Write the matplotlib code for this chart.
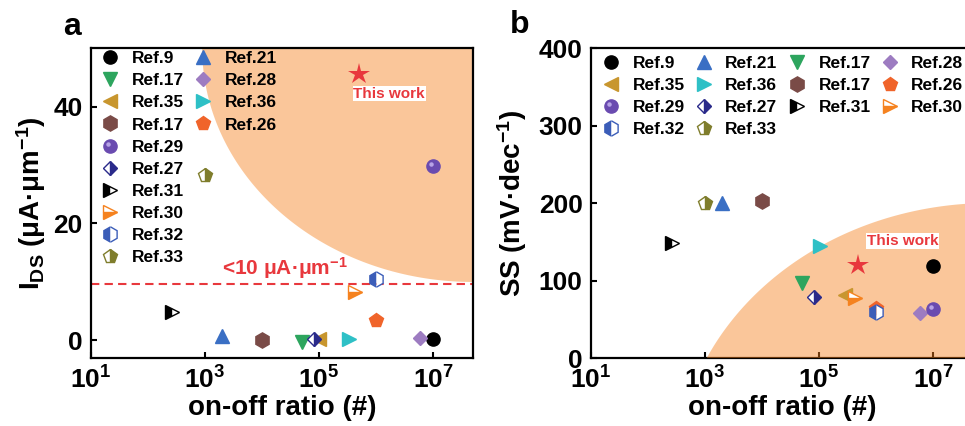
import numpy as np
import matplotlib
matplotlib.use('Agg')
import matplotlib.pyplot as plt
from matplotlib.path import Path
from matplotlib.ticker import FixedLocator, FuncFormatter

plt.rcParams.update({
    'font.family': 'Liberation Sans',
    'font.weight': 'bold',
    'axes.labelweight': 'bold',
    'mathtext.fontset': 'custom',
    'mathtext.rm': 'Liberation Sans:bold',
    'mathtext.bf': 'Liberation Sans:bold',
    'mathtext.it': 'Liberation Sans:bold:italic',
    'mathtext.sf': 'Liberation Sans:bold',
    'mathtext.default': 'bf',
})

# reference keys
keys = ['ref9', 'ref21', 'ref17a', 'ref28',
        'ref35', 'ref36', 'ref17b', 'ref26',
        'ref29', 'ref27', 'ref31', 'ref30',
        'ref32', 'ref33']
labels = ['Ref.9', 'Ref.21', 'Ref.17', 'Ref.28',
          'Ref.35', 'Ref.36', 'Ref.17', 'Ref.26',
          'Ref.29', 'Ref.27', 'Ref.31', 'Ref.30',
          'Ref.32', 'Ref.33']

# panel a: on-off ratio vs I_DS (uA/um)
ratio_a = [1e7, 2e3, 5e4, 5.8e6, 1e5, 3.3e5, 1e4, 1e6, 1e7, 8e4, 2.6e2, 4.3e5, 1e6, 1e3]
ids_a = [0.3, 0.7, -0.2, 0.5, 0.2, 0.2, 0.0, 3.5, 29.8, 0.2, 4.8, 8.3, 10.5, 28.3]
# panel b: on-off ratio vs SS (mV/dec)
ratio_b = [1e7, 2e3, 5e4, 5.8e6, 2.9e5, 1.05e5, 1e4, 1e6, 1e7, 8e4, 2.6e2, 4.3e5, 1e6, 1e3]
ss_b = [119, 200, 97, 58, 81, 144, 203, 65, 63, 79, 149, 77, 60, 200]

this_ratio = [5e5, 4.9e5]
this_ids = 45.6
this_ss = 120
ids_limit = 9.7

# legend layouts
leg_a_col1 = ['ref9', 'ref17a', 'ref35', 'ref17b', 'ref29', 'ref27', 'ref31', 'ref30', 'ref32', 'ref33']
leg_a_col2 = ['ref21', 'ref28', 'ref36', 'ref26']
leg_b = ['ref9', 'ref35', 'ref29', 'ref32',
         'ref21', 'ref36', 'ref27', 'ref33',
         'ref17a', 'ref17b', 'ref31',
         'ref28', 'ref26', 'ref30']

colors = {'ref9': 'black', 'ref21': '#3A6FC4', 'ref17a': '#2DA55E', 'ref28': '#9D7CC1',
          'ref35': '#C8962E', 'ref36': '#2EC0C6', 'ref17b': '#7A4B47', 'ref26': '#F0642A',
          'ref29': '#6A4BB0', 'ref27': '#2A2A8A', 'ref31': 'black', 'ref30': '#F5821F',
          'ref32': '#3B5DB8', 'ref33': '#7F7D2C'}
markers = {'ref9': 'o', 'ref21': '^', 'ref17a': 'v', 'ref28': 'D', 'ref35': '<',
           'ref36': '>', 'ref17b': 'h', 'ref26': 'p', 'ref29': 'o', 'ref27': 'D',
           'ref31': '>', 'ref30': '>', 'ref32': 'h', 'ref33': 'p'}
sizes = {'o': 9.5, '^': 10, 'v': 10, '<': 10, '>': 10, 'D': 7, 'h': 11, 'p': 10.5}
fills = {'ref27': 'right', 'ref31': 'left', 'ref30': 'bottom', 'ref32': 'left', 'ref33': 'right'}

orange = '#F58220'
red = '#E8383D'

# small highlight dot for the "sphere" marker of Ref.29
t = np.linspace(0, 2 * np.pi, 30)
hv = np.column_stack([-0.3 + 0.34 * np.cos(t), 0.3 + 0.34 * np.sin(t)])
hverts = np.vstack([hv, [[1, 1], [-1, -1]]])
hcodes = [Path.MOVETO] + [Path.LINETO] * (len(hv) - 2) + [Path.CLOSEPOLY] + [Path.MOVETO, Path.MOVETO]
shine = Path(hverts, hcodes)


def style(k):
    m = markers[k]
    kw = dict(marker=m, markersize=sizes[m], color=colors[k], markeredgecolor=colors[k],
              markeredgewidth=1.0, linestyle='none')
    if k in fills:
        kw.update(fillstyle=fills[k], markerfacecoloralt='white')
    return kw


def draw_points(ax, xs, ys):
    handles = {}
    for k, x, y in zip(keys, xs, ys):
        h, = ax.plot([x], [y], zorder=4, **style(k))
        if k == 'ref29':
            s, = ax.plot([x], [y], marker=shine, markersize=sizes['o'], color='#B7A3E6',
                         markeredgewidth=0, linestyle='none', zorder=4.1)
            h = (h, s)
        handles[k] = h
    return handles


def fmt_log(v, pos):
    return r'$\mathbf{10^{%d}}$' % int(round(np.log10(v)))


def setup(ax):
    ax.set_xscale('log')
    ax.set_xlim(10, 10 ** 7.7)
    ax.xaxis.set_major_locator(FixedLocator([1e1, 1e3, 1e5, 1e7]))
    ax.xaxis.set_minor_locator(FixedLocator([]))
    ax.xaxis.set_major_formatter(FuncFormatter(fmt_log))
    ax.tick_params(direction='in', length=4, width=1.5, labelsize=19, pad=6)
    for sp in ax.spines.values():
        sp.set_linewidth(1.6)
    ax.set_xlabel('on-off ratio (#)', fontsize=20, labelpad=1)


leg_kw = dict(frameon=False, fontsize=12.5, handlelength=1.0, handletextpad=0.75,
              labelspacing=0.4, borderpad=0, borderaxespad=0, loc='upper left',
              numpoints=1)

fig = plt.figure(figsize=(9.65, 4.26), dpi=100)
ax_a = fig.add_axes([0.0943, 0.1596, 0.3959, 0.7277])
ax_b = fig.add_axes([0.6124, 0.1596, 0.3959, 0.7277])

# ---- panel a ----
setup(ax_a)
ax_a.set_ylim(-3, 50)
ax_a.set_yticks([0, 20, 40])
ax_a.set_ylabel(r'I$_{\mathbf{DS}}$ (μA·μm$^{\mathbf{-1}}$)', fontsize=20, labelpad=4)

tt = np.linspace(0, np.pi / 2, 200)
lx = 7.7 - 4.75 * np.cos(tt)
ly = 50 - 40 * np.sin(tt)
ax_a.fill(np.append(10 ** lx, 10 ** 7.7), np.append(ly, 50), color=orange, alpha=0.45,
          lw=0, zorder=1)
ax_a.axhline(ids_limit, color=red, ls=(0, (4, 2.5)), lw=1.5, zorder=2)
ax_a.text(2.5e4, 12.4, r'<10 μA·μm$^{\mathbf{-1}}$', color=red, fontsize=15,
          ha='center', va='center')

ha = draw_points(ax_a, ratio_a, ids_a)
ax_a.plot([this_ratio[0]], [this_ids], marker='*', markersize=16, color=red,
          markeredgewidth=0, linestyle='none', zorder=5)
ax_a.text(1.7e6, 42.2, 'This work', color=red, fontsize=11, ha='center', va='center',
          bbox=dict(facecolor='white', edgecolor='none', pad=0.5), zorder=5)

leg1 = ax_a.legend([ha[k] for k in leg_a_col1], [labels[keys.index(k)] for k in leg_a_col1],
                   bbox_to_anchor=(0.027, 0.99), **leg_kw)
ax_a.add_artist(leg1)
ax_a.legend([ha[k] for k in leg_a_col2], [labels[keys.index(k)] for k in leg_a_col2],
            bbox_to_anchor=(0.27, 0.99), **leg_kw)

# ---- panel b ----
setup(ax_b)
ax_b.set_ylim(0, 400)
ax_b.set_yticks([0, 100, 200, 300, 400])
ax_b.set_ylabel(r'SS (mV·dec$^{\mathbf{-1}}$)', fontsize=20, labelpad=7)

cx, cy, ea, eb = 8.0, -150, 5.5, 350
t0 = np.arcsin(-cy / eb)
tt = np.linspace(t0, np.pi / 2, 200)
bx = cx - ea * np.cos(tt)
by = cy + eb * np.sin(tt)
ax_b.fill(np.append(10 ** bx, 10 ** cx), np.append(by, 0), color=orange, alpha=0.45,
          lw=0, zorder=2.6)

hb = draw_points(ax_b, ratio_b, ss_b)
ax_b.plot([this_ratio[1]], [this_ss], marker='*', markersize=16, color=red,
          markeredgewidth=0, linestyle='none', zorder=5)
ax_b.text(2.9e6, 151, 'This work', color=red, fontsize=11, ha='center', va='center',
          bbox=dict(facecolor='white', edgecolor='none', pad=0.5), zorder=5)

ax_b.legend([hb[k] for k in leg_b], [labels[keys.index(k)] for k in leg_b], ncol=4,
            columnspacing=0.6, bbox_to_anchor=(0.029, 0.975), **leg_kw)

fig.text(0.0746, 0.937, 'a', fontsize=23, ha='center', va='center')
fig.text(0.539, 0.941, 'b', fontsize=23, ha='center', va='center')

fig.savefig('out.png', dpi=100)
